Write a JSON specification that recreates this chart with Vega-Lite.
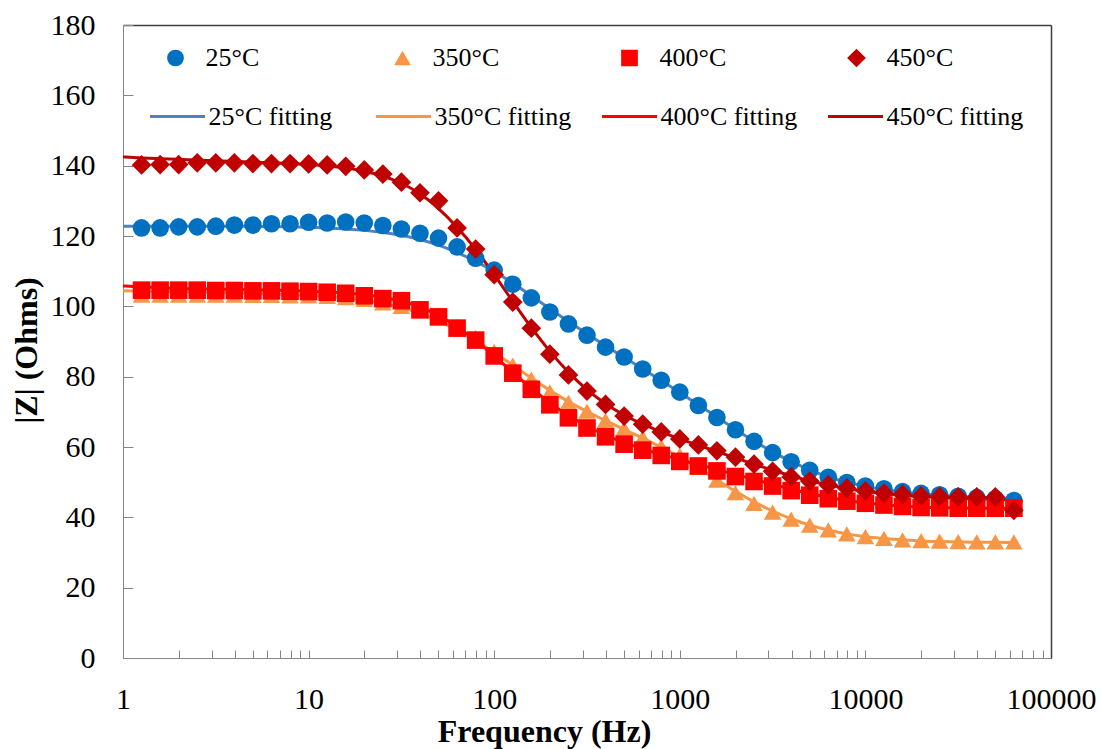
{
  "$schema": "https://vega.github.io/schema/vega-lite/v6.json",
  "width": 928,
  "height": 633,
  "autosize": {"type": "none"},
  "padding": {"left": 123, "top": 25, "right": 50, "bottom": 91},
  "background": "white",
  "config": {
    "view": {"stroke": null},
    "axis": {"grid": false, "labelFont": "Liberation Serif", "titleFont": "Liberation Serif", "labelColor": "#000000", "titleColor": "#000000"},
    "legend": {"labelFont": "Liberation Serif"}
  },
  "datasets": {
    "pts": [
      {"f":1.259,"25°C":122.3,"350°C":103.2,"400°C":104.6,"450°C":140.2},
      {"f":1.585,"25°C":122.3,"350°C":103.2,"400°C":104.6,"450°C":140.3},
      {"f":1.995,"25°C":122.6,"350°C":103.2,"400°C":104.6,"450°C":140.3},
      {"f":2.512,"25°C":122.6,"350°C":103.2,"400°C":104.6,"450°C":140.8},
      {"f":3.162,"25°C":122.8,"350°C":103.2,"400°C":104.5,"450°C":140.8},
      {"f":3.981,"25°C":123.1,"350°C":103.2,"400°C":104.5,"450°C":140.8},
      {"f":5.012,"25°C":123.1,"350°C":103.1,"400°C":104.4,"450°C":140.6},
      {"f":6.310,"25°C":123.5,"350°C":103.1,"400°C":104.4,"450°C":140.6},
      {"f":7.943,"25°C":123.5,"350°C":103.0,"400°C":104.3,"450°C":140.6},
      {"f":10,"25°C":123.9,"350°C":103.0,"400°C":104.2,"450°C":140.5},
      {"f":12.59,"25°C":123.7,"350°C":102.8,"400°C":104.0,"450°C":140.2},
      {"f":15.85,"25°C":124.0,"350°C":102.5,"400°C":103.7,"450°C":139.8},
      {"f":19.95,"25°C":123.7,"350°C":102.0,"400°C":103.0,"450°C":138.8},
      {"f":25.12,"25°C":123.0,"350°C":101.0,"400°C":102.2,"450°C":137.6},
      {"f":31.62,"25°C":122.0,"350°C":100.0,"400°C":101.6,"450°C":135.3},
      {"f":39.81,"25°C":120.8,"350°C":99.5,"400°C":99.0,"450°C":132.3},
      {"f":50.12,"25°C":119.4,"350°C":97.5,"400°C":97.0,"450°C":130.0},
      {"f":63.10,"25°C":116.9,"350°C":94.3,"400°C":93.8,"450°C":122.3},
      {"f":79.43,"25°C":113.7,"350°C":91.2,"400°C":90.4,"450°C":116.3},
      {"f":100,"25°C":110.3,"350°C":87.2,"400°C":85.9,"450°C":109.0},
      {"f":125.9,"25°C":106.3,"350°C":83.3,"400°C":81.0,"450°C":101.2},
      {"f":158.5,"25°C":102.4,"350°C":79.3,"400°C":76.4,"450°C":93.8},
      {"f":199.5,"25°C":98.4,"350°C":75.7,"400°C":72.0,"450°C":86.4},
      {"f":251.2,"25°C":95.0,"350°C":72.7,"400°C":68.3,"450°C":80.5},
      {"f":316.2,"25°C":91.8,"350°C":70.2,"400°C":65.4,"450°C":75.9},
      {"f":398.1,"25°C":88.4,"350°C":67.6,"400°C":62.9,"450°C":72.1},
      {"f":501.2,"25°C":85.6,"350°C":65.2,"400°C":60.8,"450°C":68.8},
      {"f":631.0,"25°C":82.2,"350°C":62.7,"400°C":59.1,"450°C":66.5},
      {"f":794.3,"25°C":79.0,"350°C":60.2,"400°C":57.6,"450°C":64.3},
      {"f":1000,"25°C":75.6,"350°C":57.6,"400°C":55.9,"450°C":62.3},
      {"f":1259,"25°C":71.8,"350°C":54.2,"400°C":54.6,"450°C":60.6},
      {"f":1585,"25°C":68.4,"350°C":50.6,"400°C":53.2,"450°C":58.9},
      {"f":1995,"25°C":64.9,"350°C":47.0,"400°C":51.6,"450°C":57.1},
      {"f":2512,"25°C":61.6,"350°C":44.0,"400°C":50.2,"450°C":55.1},
      {"f":3162,"25°C":58.4,"350°C":41.5,"400°C":48.9,"450°C":53.1},
      {"f":3981,"25°C":55.8,"350°C":39.5,"400°C":47.6,"450°C":51.5},
      {"f":5012,"25°C":53.4,"350°C":37.8,"400°C":46.3,"450°C":50.3},
      {"f":6310,"25°C":51.4,"350°C":36.4,"400°C":45.3,"450°C":49.2},
      {"f":7943,"25°C":49.9,"350°C":35.3,"400°C":44.6,"450°C":48.3},
      {"f":10000,"25°C":48.9,"350°C":34.5,"400°C":44.0,"450°C":47.5},
      {"f":12589,"25°C":48.1,"350°C":34.0,"400°C":43.5,"450°C":46.9},
      {"f":15849,"25°C":47.3,"350°C":33.6,"400°C":43.1,"450°C":46.5},
      {"f":19953,"25°C":46.8,"350°C":33.4,"400°C":42.8,"450°C":46.1},
      {"f":25119,"25°C":46.4,"350°C":33.2,"400°C":42.7,"450°C":45.9},
      {"f":31623,"25°C":46.0,"350°C":33.1,"400°C":42.6,"450°C":45.8},
      {"f":39811,"25°C":45.6,"350°C":33.0,"400°C":42.6,"450°C":45.8},
      {"f":50119,"25°C":45.3,"350°C":33.0,"400°C":42.6,"450°C":45.8},
      {"f":63096,"25°C":44.8,"350°C":33.0,"400°C":42.6,"450°C":42.0}
    ],
    "fits": [
      {"f":1,"25°C fitting":122.8,"350°C fitting":104.4,"400°C fitting":105.8,"450°C fitting":142.5},
      {"f":1.259,"25°C fitting":122.8,"350°C fitting":104.3,"400°C fitting":105.5,"450°C fitting":142.2},
      {"f":1.585,"25°C fitting":122.8,"350°C fitting":104.2,"400°C fitting":105.3,"450°C fitting":142.0},
      {"f":1.995,"25°C fitting":122.8,"350°C fitting":104.1,"400°C fitting":105.1,"450°C fitting":141.8},
      {"f":2.512,"25°C fitting":122.8,"350°C fitting":104.0,"400°C fitting":105.0,"450°C fitting":141.6},
      {"f":3.162,"25°C fitting":122.8,"350°C fitting":103.9,"400°C fitting":104.9,"450°C fitting":141.4},
      {"f":3.981,"25°C fitting":122.8,"350°C fitting":103.8,"400°C fitting":104.8,"450°C fitting":141.2},
      {"f":5.012,"25°C fitting":122.7,"350°C fitting":103.7,"400°C fitting":104.7,"450°C fitting":141.0},
      {"f":6.310,"25°C fitting":122.7,"350°C fitting":103.5,"400°C fitting":104.6,"450°C fitting":140.8},
      {"f":7.943,"25°C fitting":122.6,"350°C fitting":103.3,"400°C fitting":104.5,"450°C fitting":140.6},
      {"f":10,"25°C fitting":122.5,"350°C fitting":103.1,"400°C fitting":104.3,"450°C fitting":140.3},
      {"f":12.59,"25°C fitting":122.3,"350°C fitting":102.8,"400°C fitting":104.1,"450°C fitting":139.9},
      {"f":15.85,"25°C fitting":122.0,"350°C fitting":102.4,"400°C fitting":103.8,"450°C fitting":139.3},
      {"f":19.95,"25°C fitting":121.6,"350°C fitting":101.8,"400°C fitting":103.3,"450°C fitting":138.4},
      {"f":25.12,"25°C fitting":121.0,"350°C fitting":100.9,"400°C fitting":102.6,"450°C fitting":137.0},
      {"f":31.62,"25°C fitting":120.2,"350°C fitting":99.7,"400°C fitting":101.5,"450°C fitting":135.0},
      {"f":39.81,"25°C fitting":119.0,"350°C fitting":98.0,"400°C fitting":99.8,"450°C fitting":132.0},
      {"f":50.12,"25°C fitting":117.4,"350°C fitting":95.8,"400°C fitting":97.4,"450°C fitting":127.8},
      {"f":63.10,"25°C fitting":115.3,"350°C fitting":93.2,"400°C fitting":94.2,"450°C fitting":122.5},
      {"f":79.43,"25°C fitting":112.8,"350°C fitting":90.2,"400°C fitting":90.3,"450°C fitting":116.2},
      {"f":100,"25°C fitting":109.9,"350°C fitting":86.9,"400°C fitting":85.9,"450°C fitting":109.0},
      {"f":125.9,"25°C fitting":106.6,"350°C fitting":83.3,"400°C fitting":81.2,"450°C fitting":101.4},
      {"f":158.5,"25°C fitting":103.0,"350°C fitting":79.6,"400°C fitting":76.7,"450°C fitting":94.0},
      {"f":199.5,"25°C fitting":99.3,"350°C fitting":76.1,"400°C fitting":72.6,"450°C fitting":87.2},
      {"f":251.2,"25°C fitting":95.7,"350°C fitting":72.9,"400°C fitting":69.0,"450°C fitting":81.3},
      {"f":316.2,"25°C fitting":92.2,"350°C fitting":70.1,"400°C fitting":65.9,"450°C fitting":76.3},
      {"f":398.1,"25°C fitting":88.8,"350°C fitting":67.5,"400°C fitting":63.4,"450°C fitting":72.3},
      {"f":501.2,"25°C fitting":85.5,"350°C fitting":65.0,"400°C fitting":61.3,"450°C fitting":69.1},
      {"f":631.0,"25°C fitting":82.2,"350°C fitting":62.5,"400°C fitting":59.5,"450°C fitting":66.5},
      {"f":794.3,"25°C fitting":78.9,"350°C fitting":59.9,"400°C fitting":57.9,"450°C fitting":64.3},
      {"f":1000,"25°C fitting":75.5,"350°C fitting":57.1,"400°C fitting":56.4,"450°C fitting":62.3},
      {"f":1259,"25°C fitting":72.0,"350°C fitting":54.0,"400°C fitting":55.0,"450°C fitting":60.5},
      {"f":1585,"25°C fitting":68.5,"350°C fitting":50.7,"400°C fitting":53.6,"450°C fitting":58.7},
      {"f":1995,"25°C fitting":65.0,"350°C fitting":47.4,"400°C fitting":52.2,"450°C fitting":56.9},
      {"f":2512,"25°C fitting":61.7,"350°C fitting":44.4,"400°C fitting":50.8,"450°C fitting":55.1},
      {"f":3162,"25°C fitting":58.6,"350°C fitting":41.8,"400°C fitting":49.4,"450°C fitting":53.4},
      {"f":3981,"25°C fitting":55.9,"350°C fitting":39.6,"400°C fitting":48.0,"450°C fitting":51.8},
      {"f":5012,"25°C fitting":53.5,"350°C fitting":37.8,"400°C fitting":46.8,"450°C fitting":50.4},
      {"f":6310,"25°C fitting":51.5,"350°C fitting":36.4,"400°C fitting":45.7,"450°C fitting":49.2},
      {"f":7943,"25°C fitting":50.0,"350°C fitting":35.3,"400°C fitting":44.8,"450°C fitting":48.2},
      {"f":10000,"25°C fitting":48.8,"350°C fitting":34.5,"400°C fitting":44.1,"450°C fitting":47.4},
      {"f":12589,"25°C fitting":47.9,"350°C fitting":34.0,"400°C fitting":43.6,"450°C fitting":46.8},
      {"f":15849,"25°C fitting":47.2,"350°C fitting":33.6,"400°C fitting":43.2,"450°C fitting":46.3},
      {"f":19953,"25°C fitting":46.7,"350°C fitting":33.3,"400°C fitting":42.9,"450°C fitting":45.9},
      {"f":25119,"25°C fitting":46.3,"350°C fitting":33.1,"400°C fitting":42.8,"450°C fitting":45.6},
      {"f":31623,"25°C fitting":46.0,"350°C fitting":33.0,"400°C fitting":42.7,"450°C fitting":45.4},
      {"f":39811,"25°C fitting":45.7,"350°C fitting":32.9,"400°C fitting":42.6,"450°C fitting":45.2},
      {"f":50119,"25°C fitting":45.5,"350°C fitting":32.9,"400°C fitting":42.6,"450°C fitting":45.1},
      {"f":63096,"25°C fitting":45.3,"350°C fitting":32.8,"400°C fitting":42.6,"450°C fitting":45.0}
    ]
  },
  "layer": [
    {
      "data": {"name": "fits"},
      "transform": [{"fold": ["25°C fitting", "350°C fitting", "400°C fitting", "450°C fitting"], "as": ["s", "z"]}],
      "mark": {"type": "line", "strokeWidth": 3, "interpolate": "monotone"},
      "encoding": {
        "x": {
          "field": "f", "type": "quantitative",
          "scale": {"type": "log", "domain": [1, 100000], "nice": false},
          "axis": {
            "orient": "bottom",
            "values": [1,2,3,4,5,6,7,8,9,10,20,30,40,50,60,70,80,90,100,200,300,400,500,600,700,800,900,1000,2000,3000,4000,5000,6000,7000,8000,9000,10000,20000,30000,40000,50000,60000,70000,80000,90000,100000],
            "format": "d",
            "labelExpr": "indexof([1,10,100,1000,10000,100000], datum.value) >= 0 ? datum.label : ''",
            "labelFontSize": 30, "labelPadding": 58, "labelBaseline": "alphabetic",
            "labelFlush": false, "labelOverlap": false,
            "tickSize": -8, "tickColor": "#868686", "domainColor": "#868686",
            "title": "Frequency (Hz)", "titleFontSize": 32, "titleFontWeight": "bold",
            "titleX": 421, "titleY": 83, "titleAlign": "center", "titleBaseline": "alphabetic"
          }
        },
        "y": {
          "field": "z", "type": "quantitative",
          "scale": {"domain": [0, 180], "nice": false, "zero": false},
          "axis": {
            "orient": "left",
            "values": [0,20,40,60,80,100,120,140,160,180],
            "labelFontSize": 30, "labelPadding": 38, "labelFlush": false, "labelOverlap": false,
            "tickSize": -10, "tickColor": "#868686", "domainColor": "#868686",
            "title": "|Z| (Ohms)", "titleFontSize": 32, "titleFontWeight": "bold",
            "titleX": -97, "titleY": 325, "titleAngle": 270, "titleAlign": "center", "titleBaseline": "middle"
          }
        },
        "stroke": {
          "field": "s", "type": "nominal",
          "scale": {
            "domain": ["25°C fitting", "350°C fitting", "400°C fitting", "450°C fitting"],
            "range": ["#4F81BD", "#F79646", "#FF0000", "#C00000"]
          },
          "legend": {
            "orient": "none", "legendX": 25.5, "legendY": 76.5, "direction": "horizontal", "columns": 4,
            "gridAlign": "all", "columnPadding": 29, "clipHeight": 30,
            "padding": 0, "offset": 0, "title": null, "labelFontSize": 26, "labelColor": "#000000",
            "labelOffset": 2, "symbolType": "stroke", "symbolSize": 3025, "symbolStrokeWidth": 3, "symbolOffset": 0
          }
        }
      }
    },
    {
      "data": {"name": "pts"},
      "transform": [{"fold": ["25°C", "350°C", "400°C", "450°C"], "as": ["s", "z"]}],
      "mark": {"type": "point", "filled": true, "opacity": 1, "size": 310, "strokeWidth": 0},
      "encoding": {
        "x": {"field": "f", "type": "quantitative", "axis": {"orient": "top", "ticks": false, "labels": false, "title": null, "domainColor": "#3c3c3c", "domainWidth": 1.5}},
        "y": {"field": "z", "type": "quantitative", "axis": {"orient": "right", "ticks": false, "labels": false, "title": null, "domainColor": "#3c3c3c", "domainWidth": 1.5}},
        "fill": {
          "field": "s", "type": "nominal",
          "scale": {
            "domain": ["25°C", "350°C", "400°C", "450°C"],
            "range": ["#0070C0", "#F79646", "#FF0000", "#C00000"]
          },
          "legend": {
            "orient": "none", "legendX": 25.5, "legendY": 18, "direction": "horizontal", "columns": 4,
            "gridAlign": "all", "columnPadding": 103, "clipHeight": 30,
            "padding": 0, "offset": 0, "title": null, "labelFontSize": 26, "labelColor": "#000000",
            "labelOffset": 17, "symbolSize": 280, "symbolStrokeWidth": 0, "symbolOffset": 14, "symbolOpacity": 1
          }
        },
        "shape": {
          "field": "s", "type": "nominal",
          "scale": {
            "domain": ["25°C", "350°C", "400°C", "450°C"],
            "range": ["circle", "triangle-up", "square", "M0,-1.12L1.12,0L0,1.12L-1.12,0Z"]
          },
          "legend": {
            "orient": "none", "legendX": 25.5, "legendY": 18, "direction": "horizontal", "columns": 4,
            "gridAlign": "all", "columnPadding": 103, "clipHeight": 30,
            "padding": 0, "offset": 0, "title": null, "labelFontSize": 26, "labelColor": "#000000",
            "labelOffset": 17, "symbolSize": 280, "symbolStrokeWidth": 0, "symbolOffset": 14, "symbolOpacity": 1
          }
        },
        "order": {"field": "s", "type": "ordinal"}
      }
    }
  ],
  "resolve": {"axis": {"x": "independent", "y": "independent"}}
}
